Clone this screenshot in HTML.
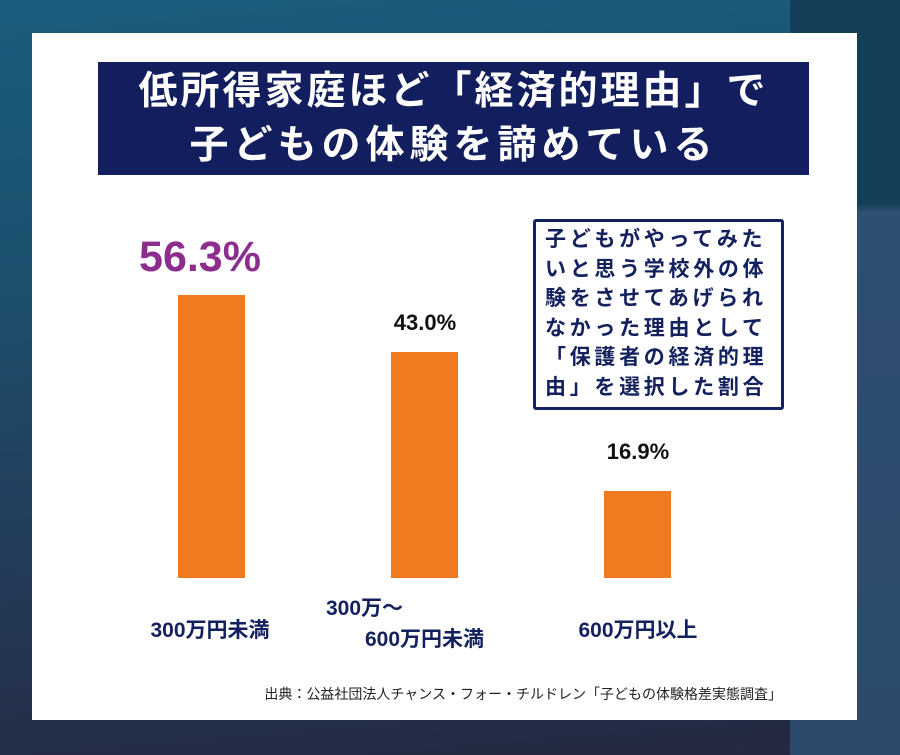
<!DOCTYPE html>
<html><head><meta charset="utf-8"><style>
*{margin:0;padding:0;box-sizing:border-box}
body{width:900px;height:755px;position:relative;overflow:hidden;font-family:"Liberation Sans","Noto Sans CJK JP",sans-serif;
background:linear-gradient(175deg,#1a5d7c 0%,#1d4f6e 35%,#243a58 70%,#23283f 100%);}
.strip{position:absolute;left:790px;top:0;width:110px;height:755px;background:linear-gradient(180deg,#143f58 0%,#143f58 27%,#2e4e72 28%,#2c4b6c 100%)}
.card{position:absolute;left:32px;top:33px;width:825px;height:687px;background:#fff}
.title{position:absolute;left:98px;top:62px;width:711px;height:113px;background:#121e5e;color:#fff;font-weight:bold;font-size:39px;line-height:54px;text-align:center;padding-top:3px}
.bar{position:absolute;background:#ef7a1f}
.t{position:absolute;font-weight:bold;text-align:center;white-space:nowrap}
.box{position:absolute;left:533px;top:219px;width:251px;height:191px;border:3px solid #13215e;border-radius:3px;color:#13215e;font-weight:bold;font-size:21px;line-height:29.5px;padding:3px 0 0 9px;letter-spacing:3.7px;white-space:nowrap}
</style></head><body>
<div class="strip"></div>
<div class="card"></div>
<div class="title"><span style="letter-spacing:3px">低所得家庭ほど「経済的理由」で</span><br><span style="letter-spacing:5px">子どもの体験を諦めている</span></div>
<div class="bar" style="left:178px;top:295px;width:67px;height:283px"></div>
<div class="bar" style="left:391px;top:352px;width:67px;height:226px"></div>
<div class="bar" style="left:604px;top:491px;width:67px;height:87px"></div>
<div class="t" style="left:110px;top:233px;width:180px;font-size:43px;color:#8c2e8e">56.3%</div>
<div class="t" style="left:345px;top:310px;width:160px;font-size:22px;color:#111">43.0%</div>
<div class="t" style="left:558px;top:439px;width:160px;font-size:22px;color:#111">16.9%</div>
<div class="t" style="left:120px;top:614px;width:180px;font-size:21px;color:#13215e">300万円未満</div>
<div class="t" style="left:326px;top:592px;font-size:21px;color:#13215e;text-align:left">300万～</div>
<div class="t" style="left:365px;top:623px;font-size:21px;color:#13215e;text-align:left">600万円未満</div>
<div class="t" style="left:548px;top:614px;width:180px;font-size:21px;color:#13215e">600万円以上</div>
<div class="box">子どもがやってみた<br>いと思う学校外の体<br>験をさせてあげられ<br>なかった理由として<br>「保護者の経済的理<br>由」を選択した割合</div>
<div style="position:absolute;left:200px;top:684px;width:582px;text-align:right;font-size:14px;color:#222;white-space:nowrap">出典：公益社団法人チャンス・フォー・チルドレン「子どもの体験格差実態調査」</div>
</body></html>
